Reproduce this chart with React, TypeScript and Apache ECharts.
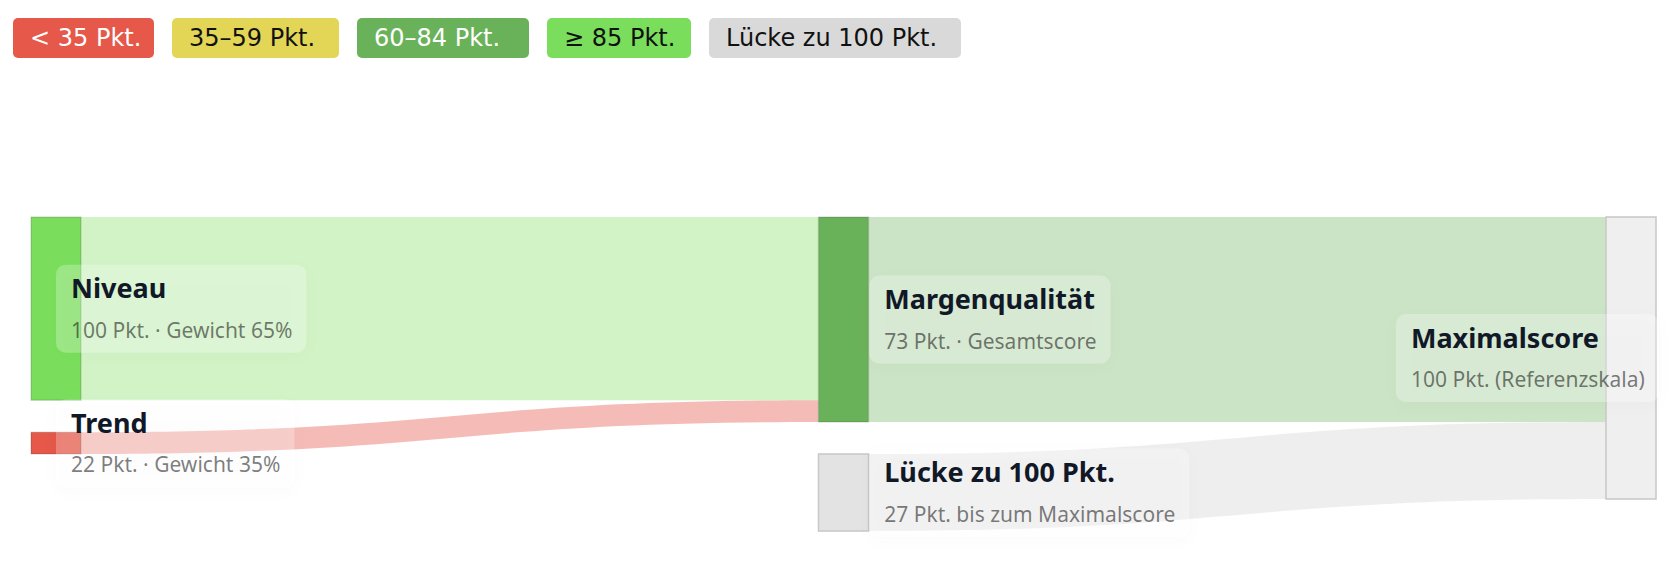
import React, { useEffect, useRef } from "react";
import * as echarts from "echarts";

// ---------- data ----------
const NODE_NAMES = ["Niveau", "Trend", "Margenqualität", "Lücke zu 100 Pkt.", "Maximalscore"];
const NODE_SUBTITLES = [
  "100 Pkt. · Gewicht 65%",
  "22 Pkt. · Gewicht 35%",
  "73 Pkt. · Gesamtscore",
  "27 Pkt. bis zum Maximalscore",
  "100 Pkt. (Referenzskala)",
];
const NODE_SCORES = [100, 22, 73, null, null];
const NODE_DEPTHS = [0, 0, 1, 1, 2];

const LINK_SOURCES = ["Niveau", "Trend", "Margenqualität", "Lücke zu 100 Pkt."];
const LINK_TARGETS = ["Margenqualität", "Margenqualität", "Maximalscore", "Maximalscore"];
const LINK_VALUES = [65, 7.7, 72.7, 27.3];

const LEGEND_LABELS = ["< 35 Pkt.", "35–59 Pkt.", "60–84 Pkt.", "≥ 85 Pkt.", "Lücke zu 100 Pkt."];

// ---------- styles ----------
const C_RED = "#e5584a";
const C_YELLOW = "#e3d656";
const C_DGREEN = "#6ab25a";
const C_LGREEN = "#7ade5c";
const C_GREY = "#d9d9d9";
const LEGEND_BG = [C_RED, C_YELLOW, C_DGREEN, C_LGREEN, C_GREY];
const LEGEND_FG = ["#ffffff", "#111111", "#ffffff", "#111111", "#111111"];
const LEGEND_CHIP_W = [141, 167, 172, 144, 252];

function scoreColor(s: number | null, name: string): string {
  if (s == null) return name === "Maximalscore" ? "#efefef" : "#e3e3e3";
  if (s < 35) return C_RED;
  if (s < 60) return C_YELLOW;
  if (s < 85) return C_DGREEN;
  return C_LGREEN;
}

const LABEL_POS: any[] = [
  { position: ["50%", "50%"], align: "left" },
  { position: ["100%", "50%"], align: "left" },
  { position: ["104%", "50%"], align: "right" },
];

export default function App() {
  const ref = useRef<HTMLDivElement>(null);

  useEffect(() => {
    if (!ref.current) return;
    const chart = echarts.init(ref.current, null, { renderer: "svg" });

    // legend chips
    const legendFont = '24px "DejaVu Sans"';
    let x = 13;
    const chips: any[] = [];
    LEGEND_LABELS.forEach((lab, i) => {
      const w = LEGEND_CHIP_W[i];
      chips.push({
        type: "rect",
        x,
        y: 18,
        shape: { x: 0, y: 0, width: w, height: 40, r: 5 },
        style: { fill: LEGEND_BG[i] },
      });
      chips.push({
        type: "text",
        x: x + 17,
        y: 38,
        style: {
          text: lab,
          font: legendFont,
          fill: LEGEND_FG[i],
          verticalAlign: "middle",
          align: "left",
        },
      });
      x += w + 18;
    });

    const nodes = NODE_NAMES.map((name, i) => {
      const col = NODE_DEPTHS[i];
      const color = scoreColor(NODE_SCORES[i], name);
      return {
        name,
        depth: col,
        itemStyle: {
          color,
          borderColor: NODE_SCORES[i] == null ? "#c8c8c8" : "rgba(0,0,0,0.12)",
          borderWidth: 1.5,
        },
        label: {
          show: true,
          position: LABEL_POS[col].position,
          align: LABEL_POS[col].align,
          verticalAlign: "middle",
          formatter: () => `{t|${name}}\n{s|${NODE_SUBTITLES[i]}}`,
        },
      };
    });

    const colorOf: Record<string, string> = {};
    NODE_NAMES.forEach((n, i) => (colorOf[n] = scoreColor(NODE_SCORES[i], n)));

    const links = LINK_SOURCES.map((s, i) => ({
      source: s,
      target: LINK_TARGETS[i],
      value: LINK_VALUES[i],
      lineStyle: {
        color: NODE_SCORES[NODE_NAMES.indexOf(s)] == null ? "#cdcdcd" : colorOf[s],
        opacity: NODE_SCORES[NODE_NAMES.indexOf(s)] === 22 ? 0.4 : 0.35,
      },
    }));

    chart.setOption({
      animation: false,
      backgroundColor: "#ffffff",
      graphic: chips,
      series: [
        {
          type: "sankey",
          left: 31,
          right: 21,
          top: 217,
          height: 314,
          nodeWidth: 50,
          nodeGap: 32,
          layoutIterations: 0,
          draggable: false,
          emphasis: { disabled: true },
          lineStyle: { curveness: 0.5 },
          label: {
            show: true,
            backgroundColor: "rgba(255,255,255,0.25)",
            padding: [2, 14, 2, 15],
            borderRadius: 10,
            shadowBlur: 16,
            shadowColor: "rgba(0,0,0,0.07)",
            shadowOffsetY: 4,
            rich: {
              t: {
                fontFamily: '"Noto Sans", sans-serif',
                fontWeight: 700,
                fontSize: 27,
                lineHeight: 42,
                color: "#111827",
                align: "left",
              },
              s: {
                fontFamily: '"Noto Sans", sans-serif',
                fontSize: 21,
                lineHeight: 42,
                color: "rgba(0,0,0,0.52)",
                align: "left",
              },
            },
          },
          data: nodes,
          links,
        },
      ],
    });

    return () => chart.dispose();
  }, []);

  return (
    <div
      ref={ref}
      style={{ position: "absolute", left: 0, top: 0, width: 1677, height: 569, background: "#fff" }}
    />
  );
}
